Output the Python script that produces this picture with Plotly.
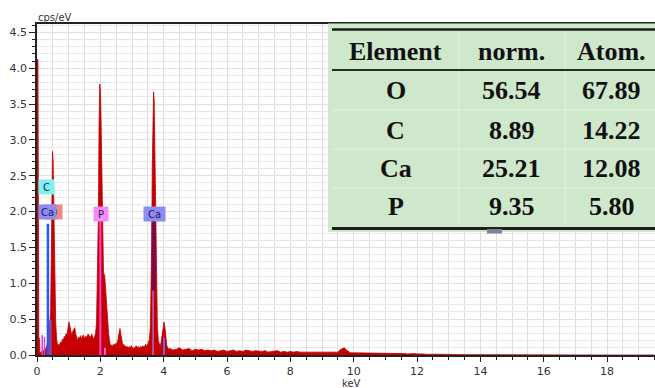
import plotly.graph_objects as go

# ---------------- spectrum data (keV, cps/eV) ----------------
energy_kev = [
    0.000, 0.004, 0.030, 0.034, 0.052, 0.056, 0.080, 0.090, 0.120, 0.150,
    0.175, 0.200, 0.230, 0.260, 0.290, 0.320, 0.350, 0.380, 0.410, 0.430,
    0.450, 0.470, 0.490, 0.510, 0.530, 0.550, 0.570, 0.590, 0.620, 0.650,
    0.68, 0.71, 0.74, 0.77, 0.80, 0.83, 0.86, 0.89, 0.92, 0.95,
    0.98, 1.01, 1.04, 1.07, 1.10, 1.13, 1.16, 1.19, 1.22, 1.25,
    1.28, 1.31, 1.34, 1.37, 1.40, 1.43, 1.46, 1.49, 1.52, 1.55,
    1.58, 1.61, 1.64, 1.67, 1.70, 1.73, 1.76, 1.79, 1.82, 1.85,
    1.88, 1.90, 1.92, 1.94, 1.96, 1.98, 2.00, 2.02, 2.04, 2.06,
    2.08, 2.10, 2.14, 2.17, 2.20, 2.23, 2.26, 2.29, 2.32, 2.35,
    2.38, 2.41, 2.44, 2.47, 2.50, 2.53, 2.56, 2.59, 2.62, 2.65,
    2.68, 2.71, 2.74, 2.77, 2.80, 2.83, 2.86, 2.89, 2.92, 2.95,
    2.98, 3.01, 3.04, 3.07, 3.10, 3.13, 3.16, 3.19, 3.22, 3.25,
    3.28, 3.31, 3.34, 3.37, 3.40, 3.43, 3.46, 3.49, 3.52, 3.55,
    3.58, 3.60, 3.62, 3.64, 3.66, 3.68, 3.70, 3.72, 3.74, 3.76,
    3.78, 3.80, 3.83, 3.86, 3.89, 3.92, 3.95, 3.98, 4.01, 4.04,
    4.07, 4.10, 4.13, 4.16,
    4.2, 4.3, 4.4, 4.5, 4.6, 4.7, 4.8, 4.9, 5.0, 5.1,
    5.2, 5.3, 5.4, 5.5, 5.6, 5.7, 5.8, 5.9, 6.0, 6.1,
    6.2, 6.3, 6.4, 6.5, 6.6, 6.7, 6.8, 6.9, 7.0, 7.1,
    7.2, 7.3, 7.4, 7.5, 7.6, 7.7, 7.8, 7.9, 8.0, 8.1,
    8.2, 8.3, 8.4, 8.5, 8.6, 8.7, 8.8, 8.9, 9.0, 9.1,
    9.2, 9.3, 9.4, 9.5, 9.6, 9.7, 9.8, 9.9, 10.0, 10.1,
    10.2, 10.3, 10.4, 10.5, 10.6, 10.7, 10.8, 10.9, 11.0, 11.1,
    11.2, 11.3, 11.4, 11.5, 11.6, 11.7, 11.8, 11.9, 12.0, 12.1,
    12.2, 12.3, 12.4, 12.5, 12.6, 12.7, 12.8, 12.9, 13.0,
    13.25, 13.5, 13.75, 14.0, 14.25, 14.5, 14.75, 15.0, 15.5, 16.0,
    17.0, 18.0, 19.5,
]
cps_per_ev = [
    0.00, 4.12, 4.12, 1.62, 1.62, 0.25, 0.22, 0.04, 0.03, 0.05,
    0.06, 0.05, 0.08, 0.07, 0.10, 0.14, 0.20, 0.30, 0.45, 0.60,
    1.30, 2.30, 2.84, 2.70, 2.00, 1.30, 0.80, 0.45, 0.22, 0.13,
    0.15, 0.13, 0.18, 0.16, 0.22, 0.20, 0.26, 0.24, 0.30, 0.28,
    0.38, 0.46, 0.40, 0.30, 0.27, 0.33, 0.36, 0.38, 0.30, 0.22,
    0.20, 0.25, 0.22, 0.27, 0.23, 0.25, 0.28, 0.22, 0.26, 0.24,
    0.27, 0.29, 0.28, 0.24, 0.26, 0.29, 0.25, 0.22, 0.26, 0.30,
    0.45, 0.90, 1.30, 2.00, 3.20, 3.78, 3.70, 3.35, 2.60, 1.80,
    1.30, 1.15, 1.10, 0.90, 0.55, 0.40, 0.30, 0.20, 0.13, 0.14,
    0.12, 0.15, 0.13, 0.16, 0.14, 0.18, 0.22, 0.30, 0.37, 0.28,
    0.16, 0.13, 0.15, 0.11, 0.13, 0.10, 0.12, 0.09, 0.12, 0.10,
    0.13, 0.10, 0.08, 0.11, 0.09, 0.13, 0.10, 0.12, 0.09, 0.11,
    0.12, 0.10, 0.13, 0.11, 0.12, 0.15, 0.13, 0.14, 0.18, 0.22,
    0.40, 0.90, 1.50, 2.60, 3.40, 3.67, 3.55, 2.90, 1.80, 1.10,
    0.80, 0.40, 0.20, 0.14, 0.12, 0.18, 0.30, 0.42, 0.46, 0.38,
    0.22, 0.13, 0.10, 0.08,
    0.09, 0.07, 0.08, 0.10, 0.07, 0.08, 0.09, 0.06, 0.08, 0.07,
    0.08, 0.06, 0.07, 0.06, 0.07, 0.05, 0.06, 0.07, 0.05, 0.06,
    0.07, 0.05, 0.06, 0.05, 0.07, 0.06, 0.05, 0.06, 0.05, 0.05,
    0.06, 0.04, 0.05, 0.05, 0.06, 0.04, 0.05, 0.04, 0.05, 0.04,
    0.05, 0.04, 0.04, 0.03, 0.04, 0.04, 0.03, 0.04, 0.03, 0.04,
    0.03, 0.04, 0.03, 0.04, 0.08, 0.10, 0.06, 0.03, 0.03, 0.03,
    0.025, 0.03, 0.02, 0.03, 0.025, 0.02, 0.03, 0.02, 0.025, 0.02,
    0.03, 0.02, 0.02, 0.025, 0.02, 0.015, 0.02, 0.02, 0.015, 0.02,
    0.015, 0.01, 0.015, 0.01, 0.012, 0.01, 0.008, 0.01, 0.008,
    0.006, 0.005, 0.004, 0.005, 0.003, 0.004, 0.002, 0.002, 0.001, 0.001,
    0.001, 0.0, 0.0,
]

# ---------------- element marker lines ----------------
marker_e = [0.165, 0.235, 0.345, 0.425, 2.00, 2.145, 3.665, 3.685, 4.01]
marker_y0 = [0.0, 0.0, 0.0, 0.0, 0.0, 0.0, 0.0, 0.90, 0.0]
marker_y1 = [0.28, 0.25, 1.83, 0.49, 1.88, 0.10, 0.90, 1.86, 0.24]
marker_col = ["#e040c8", "#e040c8", "#1a5cff", "#8a4aa8", "#ff40d8",
              "#ff60e0", "#9a8cff", "#7a0a48", "#6a6aff"]
marker_w = [1.5, 1.5, 2.5, 2.5, 2.0, 2.0, 1.2, 4.0, 1.8]

# ---------------- element label boxes ----------------
label_text = ["O", "C", "Ca", "P", "Ca"]
label_e = [0.525, 0.31, 0.34, 2.03, 3.70]
label_y = [1.99, 2.34, 1.99, 1.97, 1.97]
label_bg = ["#f08a80", "#80f2f0", "#8c8cf2", "#f58cf5", "#8c8cf2"]
label_w = [17, 15, 17, 14, 21]

# ---------------- quantification table ----------------
tbl_header = ["Element", "norm.", "Atom."]
tbl_elements = ["O", "C", "Ca", "P"]
tbl_norm = [56.54, 8.89, 25.21, 9.35]
tbl_atom = [67.89, 14.22, 12.08, 5.80]

# plot-area geometry (pixels)
L, T, W, H = 37, 24, 618, 331


def px(x):
    return (x - L) / W


def py(y):
    return (T + H - y) / H


fig = go.Figure()
fig.add_trace(go.Scatter(
    x=energy_kev, y=cps_per_ev, mode="lines", fill="tozeroy",
    line=dict(color="#c00000", width=0.8), fillcolor="#c40000",
    hoverinfo="skip", showlegend=False))

for e, a, b, c, w in zip(marker_e, marker_y0, marker_y1, marker_col, marker_w):
    fig.add_trace(go.Scatter(x=[e, e], y=[a, b], mode="lines",
                             line=dict(color=c, width=w),
                             hoverinfo="skip", showlegend=False))

annotations = []
for t, e, y, bg, w in zip(label_text, label_e, label_y, label_bg, label_w):
    annotations.append(dict(x=e, y=y, xref="x", yref="y", text=t,
                            xanchor="center", yanchor="middle",
                            showarrow=False, bgcolor=bg, width=w, height=14,
                            borderpad=0,
                            font=dict(family="DejaVu Sans", size=10, color="#1c1c55")))

shapes = []
# green table background
shapes.append(dict(type="rect", xref="paper", yref="paper",
                   x0=px(328), x1=px(660), y0=py(232), y1=py(23.5),
                   fillcolor="#cfe7cb", line=dict(width=0), layer="above"))
# faint inner lines
for yy in [110, 149, 188]:
    shapes.append(dict(type="line", xref="paper", yref="paper",
                       x0=px(332), x1=px(660), y0=py(yy), y1=py(yy),
                       line=dict(color="#e4f1e2", width=1), layer="above"))
for xx in [459, 565]:
    shapes.append(dict(type="line", xref="paper", yref="paper",
                       x0=px(xx), x1=px(xx), y0=py(228), y1=py(30),
                       line=dict(color="#e4f1e2", width=1), layer="above"))
# thick rules
shapes.append(dict(type="line", xref="paper", yref="paper",
                   x0=px(332), x1=px(660), y0=py(29.5), y1=py(29.5),
                   line=dict(color="#1e1e1e", width=2.5), layer="above"))
shapes.append(dict(type="line", xref="paper", yref="paper",
                   x0=px(332), x1=px(660), y0=py(70), y1=py(70),
                   line=dict(color="#2a2a2a", width=1.8), layer="above"))
shapes.append(dict(type="line", xref="paper", yref="paper",
                   x0=px(332), x1=px(660), y0=py(228.5), y1=py(228.5),
                   line=dict(color="#1e1e1e", width=3), layer="above"))
# small grey artefact below the table
shapes.append(dict(type="rect", xref="paper", yref="paper",
                   x0=px(487), x1=px(502), y0=py(233.5), y1=py(229),
                   fillcolor="#7c8492", line=dict(width=0), layer="above"))

col_x = [395.7, 511.7, 611.7]
row_y = [51.7, 90.7, 130, 168.3, 206.7]
tfont = dict(family="Liberation Serif", size=26, color="#111111")
for cx, h in zip(col_x, tbl_header):
    annotations.append(dict(x=px(cx), y=py(row_y[0]), xref="paper", yref="paper",
                            xanchor="center", yanchor="middle",
                            text="<b>%s</b>" % h, showarrow=False, font=tfont))
for i, (el, n, a) in enumerate(zip(tbl_elements, tbl_norm, tbl_atom)):
    for cx, s in zip(col_x, [el, "%.2f" % n, "%.2f" % a]):
        annotations.append(dict(x=px(cx), y=py(row_y[i + 1]), xref="paper", yref="paper",
                                xanchor="center", yanchor="middle",
                                text="<b>%s</b>" % s, showarrow=False, font=tfont))

# axis titles
annotations.append(dict(x=px(55), y=py(17.5), xref="paper", yref="paper", text="cps/eV",
                        xanchor="center", yanchor="middle",
                        showarrow=False, font=dict(family="DejaVu Sans", size=10, color="#333333")))
annotations.append(dict(x=px(351), y=py(383), xref="paper", yref="paper", text="keV",
                        xanchor="center", yanchor="middle",
                        showarrow=False, font=dict(family="DejaVu Sans", size=10, color="#333333")))

fig.update_layout(
    width=655, height=388,
    margin=dict(l=L, r=0, t=T, b=388 - T - H, autoexpand=False),
    paper_bgcolor="white", plot_bgcolor="white",
    shapes=shapes, annotations=annotations,
    xaxis=dict(range=[0, W / 31.67], tickmode="linear", tick0=0, dtick=2,
               ticks="outside", ticklen=5, tickcolor="#222", tickwidth=1.2,
               showline=True, linecolor="#222222", linewidth=1.5, mirror=True,
               showgrid=True, gridcolor="#dedede", gridwidth=1, zeroline=False,
               tickfont=dict(family="DejaVu Sans", size=11, color="#333333"),
               minor=dict(dtick=0.5, tick0=0, ticks="outside", ticklen=3,
                          tickcolor="#222", showgrid=True, gridcolor="#dedede")),
    yaxis=dict(range=[0, H / 71.7], tickmode="linear", tick0=0, dtick=0.5,
               tickformat=".1f",
               ticks="outside", ticklen=6, tickcolor="#222", tickwidth=1.2,
               showline=True, linecolor="#222222", linewidth=1.5,
               showgrid=True, gridcolor="#e2e2e2", gridwidth=1, zeroline=False,
               tickfont=dict(family="DejaVu Sans", size=11, color="#333333"),
               minor=dict(dtick=0.1, tick0=0, ticks="outside", ticklen=3,
                          tickcolor="#222", showgrid=True, gridcolor="#e8e8e8")),
)

fig.write_html("out.html")
